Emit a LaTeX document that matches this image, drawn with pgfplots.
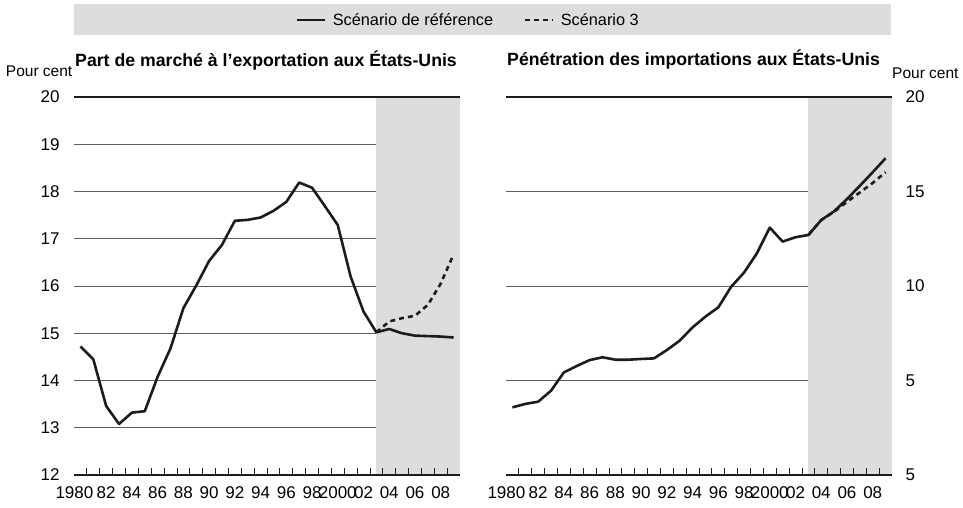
\documentclass[border=0pt]{standalone}
\usepackage{pgfplots}
\pgfplotsset{compat=1.18}
\usepackage{fontspec}
\setmainfont{Liberation Sans}
\definecolor{shadegray}{RGB}{220,221,223}
\definecolor{gridgray}{RGB}{95,95,95}
\definecolor{lineblack}{RGB}{28,28,28}

\pgfplotstableread{
year val
1980 14.72
1981 14.45
1982 13.46
1983 13.08
1984 13.32
1985 13.35
1986 14.08
1987 14.68
1988 15.53
1989 16.01
1990 16.53
1991 16.87
1992 17.38
1993 17.40
1994 17.45
1995 17.59
1996 17.78
1997 18.19
1998 18.08
1999 17.69
2000 17.29
2001 16.20
2002 15.46
2003 15.02
2004 15.09
2005 15.00
2006 14.95
2007 14.94
2008 14.93
2009 14.91
}\leftref
\pgfplotstableread{
year val
2003 15.02
2004 15.25
2005 15.32
2006 15.37
2007 15.60
2008 16.05
2009 16.67
}\leftsc
\pgfplotstableread{
year val
1980 3.58
1981 3.76
1982 3.88
1983 4.46
1984 5.43
1985 5.77
1986 6.08
1987 6.23
1988 6.10
1989 6.10
1990 6.14
1991 6.17
1992 6.61
1993 7.11
1994 7.81
1995 8.38
1996 8.87
1997 9.96
1998 10.71
1999 11.73
2000 13.09
2001 12.35
2002 12.58
2003 12.70
2004 13.49
2005 13.95
2006 14.60
2007 15.30
2008 16.02
2009 16.76
}\rightref
\pgfplotstableread{
year val
2003 12.70
2004 13.49
2005 13.93
2006 14.45
2007 14.95
2008 15.45
2009 16.02
}\rightsc

\pgfplotsset{
  common/.style={
    set layers,
    scale only axis, width=386pt, height=378pt,
    xmin=1979.5, xmax=2009.5,
    axis x line*=bottom,
    axis line style={-},
    x axis line style={line width=1.3pt, lineblack},
    y axis line style={draw=none},
    xtick={1980,1982,...,2008},
    xticklabels={\hspace*{-12pt}1980,82,84,86,88,90,92,94,96,98,2000,02,04,06,08},
    minor xtick={1980.5,1981.5,...,2008.5},
    tick align=inside,
    major tick length=0pt,
    minor tick length=7pt,
    minor tick style={line width=0.8pt, lineblack},
    tick label style={font=\fontsize{17}{17}\selectfont, /pgf/number format/assume math mode=true},
    xticklabel style={yshift=-8pt},
    clip=false,
  },
  refline/.style={lineblack, line width=2.6pt, line join=round},
  scline/.style={lineblack, line width=2.6pt, dash pattern=on 5pt off 4pt},
}

\begin{document}
\begin{tikzpicture}
\path (0pt,0pt) rectangle (963pt,-508pt);
\fill[shadegray] (74pt,-4pt) rectangle (891pt,-35pt);

% Left panel
\begin{axis}[common,
  at={(74pt,-475pt)}, anchor=south west,
  ymin=12, ymax=20,
  axis y line*=left,
  ytick={12,13,...,20},
  yticklabels={12,13,14,15,16,17,18,19,20},
  yticklabel style={xshift=-11pt},
  legend style={at={(1.0207,1.2037)}, anchor=center, fill=none, draw=none,
    legend columns=2, font=\fontsize{16.3}{18}\selectfont, inner sep=0pt,
    /tikz/every odd column/.append style={column sep=5pt},
    /tikz/every even column/.append style={column sep=28pt}},
  legend image code/.code={\draw[#1] (0pt,0pt) -- (28pt,0pt);},
]
\begin{pgfonlayer}{axis background}
\fill[shadegray] (axis cs:2003,12) rectangle (axis cs:2009.5,20);
\end{pgfonlayer}
\draw[gridgray, line width=1pt] (axis cs:1979.5,13) -- (axis cs:2003,13);
\draw[gridgray, line width=1pt] (axis cs:1979.5,14) -- (axis cs:2003,14);
\draw[gridgray, line width=1pt] (axis cs:1979.5,15) -- (axis cs:2003,15);
\draw[gridgray, line width=1pt] (axis cs:1979.5,16) -- (axis cs:2003,16);
\draw[gridgray, line width=1pt] (axis cs:1979.5,17) -- (axis cs:2003,17);
\draw[gridgray, line width=1pt] (axis cs:1979.5,18) -- (axis cs:2003,18);
\draw[gridgray, line width=1pt] (axis cs:1979.5,19) -- (axis cs:2003,19);
\draw[lineblack, line width=1.3pt] (axis cs:1979.5,20) -- (axis cs:2009.5,20);
\addplot[refline] table[x=year,y=val] {\leftref};
\addlegendentry{Scénario de référence}
\addplot[scline] table[x=year,y=val] {\leftsc};
\addlegendentry{Scénario 3}
\end{axis}

% Right panel
\begin{axis}[common,
  at={(506pt,-475pt)}, anchor=south west,
  ymin=0, ymax=20,
  axis y line*=right,
  ytick={0,5,10,15,20},
  yticklabels={5,5,10,15,20},
  yticklabel style={anchor=west, xshift=10pt},
]
\begin{pgfonlayer}{axis background}
\fill[shadegray] (axis cs:2003,0) rectangle (axis cs:2009.5,20);
\end{pgfonlayer}
\draw[gridgray, line width=1pt] (axis cs:1979.5,5) -- (axis cs:2003,5);
\draw[gridgray, line width=1pt] (axis cs:1979.5,10) -- (axis cs:2003,10);
\draw[gridgray, line width=1pt] (axis cs:1979.5,15) -- (axis cs:2003,15);
\draw[lineblack, line width=1.3pt] (axis cs:1979.5,20) -- (axis cs:2009.5,20);
\addplot[refline] table[x=year,y=val] {\rightref};
\addplot[scline] table[x=year,y=val] {\rightsc};
\end{axis}

% Titles
\node[anchor=base west, inner sep=0pt, font=\fontsize{17.7}{20}\selectfont\bfseries] at (75pt,-67pt) {Part de marché à l’exportation aux États-Unis};
\node[anchor=base west, inner sep=0pt, font=\fontsize{17.7}{20}\selectfont\bfseries] at (507pt,-66pt) {Pénétration des importations aux États-Unis};
\node[anchor=base east, inner sep=0pt, font=\fontsize{15.5}{17}\selectfont] at (72.5pt,-77pt) {Pour cent};
\node[anchor=base west, inner sep=0pt, font=\fontsize{15.5}{17}\selectfont] at (892pt,-78.5pt) {Pour cent};
\end{tikzpicture}
\end{document}
